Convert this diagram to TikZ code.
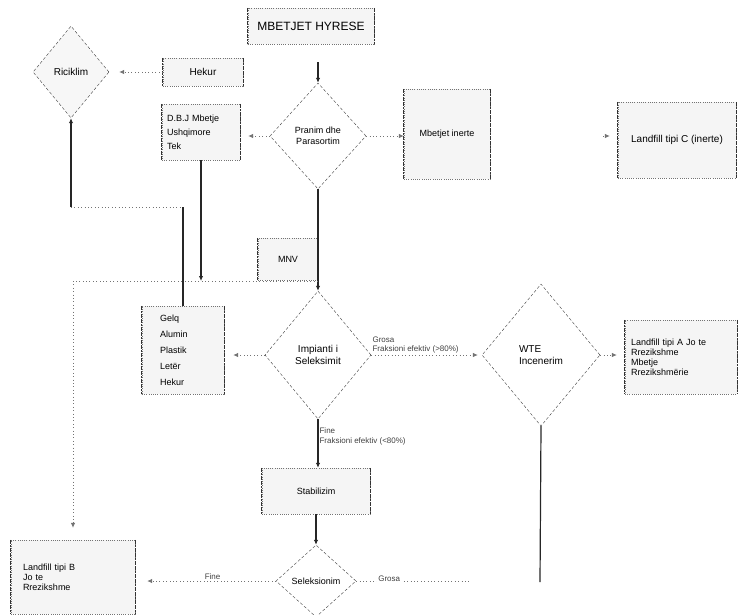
\documentclass[tikz,border=0pt]{standalone}
\usepackage{fontspec}
\setmainfont{Liberation Sans}
\usetikzlibrary{shapes.geometric,arrows.meta}
\tikzset{%
    Dbox/.style={draw=black!55, dash pattern=on 0.9pt off 1.3pt, fill=black!4, inner sep=2pt, font=\small},
    Dside/.style={draw=black!80, line width=1pt, dash pattern=on 2pt off 0.6pt},
    Ddiamond/.style={shape=diamond, draw=black!75, dash pattern=on 3pt off 2pt, inner sep=0pt, align=center, font=\normalsize},
    Dsolid/.style={line width=1.2pt, draw=black!85},
    Ddotted/.style={line width=0.8pt, draw=black!55, dash pattern=on 0.8pt off 2.6pt},
    Dtip/.style={-{Latex[length=5pt,width=4.5pt]}, shorten >=#1}, Dtip/.default={0pt},
    Dlabel/.style={font=\footnotesize, align=left, text=black!75, inner sep=1pt}
}

\begin{document}
\begin{tikzpicture}[x=1pt, y=-1pt]
    \useasboundingbox (0,0) rectangle (738,614);
        \path
            (318,62) coordinate (Nin)
            (603,136) coordinate (Nc)
            (71,207) coordinate (Nra)
            (183,207) coordinate (Nrb)
            (318,281) coordinate (Nmnv)
            (73,281) coordinate (Nleft)
            (540,582) coordinate (Nwte)
            (470,581) coordinate (Ngrosa);

        \node[Dbox, minimum width=126pt, minimum height=36pt, font=\large] (inflow) at (311,26) {MBETJET HYRESE};
        \node[Ddiamond, minimum width=96pt, minimum height=106pt, font=\small] (pranim) at (318,136) {Pranim dhe\\Parasortim};
        \node[Ddiamond, fill=black!3, minimum width=76pt, minimum height=92pt] (riciklim) at (71,72) {Riciklim};
        \node[Dbox, minimum width=80pt, minimum height=28pt, font=\normalsize] (hekur) at (203,72) {Hekur};
        \node[Dbox, minimum width=78pt, minimum height=56pt, text width=68pt, align=left] (organic) at (201,132) {D.B.J Mbetje\\[3pt]Ushqimore\\[3pt]Tek};
        \node[Dbox, minimum width=86pt, minimum height=90pt] (inert) at (447,134) {Mbetjet inerte};
        \node[Dbox, minimum width=118pt, minimum height=76pt, font=\normalsize] (landfillC) at (677,140) {Landfill tipi C (inerte)};
        \node[Dbox, minimum width=60pt, minimum height=42pt] (mnv) at (288,259) {MNV};
        \node[Dbox, minimum width=82pt, minimum height=88pt, text width=46pt, align=left] (metal) at (183,350) {Gelq\\[5pt]Alumin\\[5pt]Plastik\\[5pt]Letër\\[5pt]Hekur};
        \node[Ddiamond, minimum width=106pt, minimum height=128pt] (plant) at (318,355) {Impianti i\\Seleksimit};
        \node[Ddiamond, minimum width=118pt, minimum height=142pt, align=left] (wte) at (541,355) {WTE\\Incenerim};
        \node[Dbox, minimum width=112pt, minimum height=74pt, text width=100pt, align=left] (landfillA) at (681,357) {Landfill tipi A Jo te\\[-1pt]Rrezikshme\\[-1pt]Mbetje\\[-1pt]Rrezikshmërie};
        \node[Dbox, minimum width=108pt, minimum height=46pt] (stab) at (316,491) {Stabilizim};
        \node[Ddiamond, minimum width=80pt, minimum height=72pt, font=\small] (selek) at (316,581) {Seleksionim};
        \node[Dbox, minimum width=124pt, minimum height=74pt, text width=100pt, align=left] (landfillB) at (73,577) {Landfill tipi B\\[-1pt]Jo te\\[-1pt]Rrezikshme};

        \foreach \b in {inflow,hekur,organic,inert,landfillC,mnv,metal,landfillA,stab,landfillB}
            \draw[Dside] (\b.north west) -- (\b.south west) (\b.north east) -- (\b.south east);

        \draw[Dsolid, Dtip] (Nin) -- (pranim.north);
        \draw[Ddotted, Dtip=8pt] (pranim.west) -- (organic.east |- pranim.west);
        \draw[Ddotted, Dtip] (pranim.east) -- (inert.west |- pranim.east);
        \draw[Ddotted, Dtip=8pt] (Nc) -- (landfillC.west |- Nc);
        \draw[Ddotted, Dtip=10pt] (hekur.west) -- (riciklim.east);
        \draw[Dsolid, Dtip] (Nra) -- (riciklim.south);
        \draw[Ddotted] (Nra) -- (Nrb);
        \draw[Dsolid] (Nrb) -- (metal.north);
        \draw[Dsolid, Dtip] (organic.south) -- (organic.south |- Nmnv);
        \draw[Dsolid, Dtip] (pranim.south) -- (plant.north);
        \draw[Ddotted] (Nmnv) -- (Nleft);
        \draw[Ddotted, Dtip=12pt] (Nleft) -- (landfillB.north);
        \draw[Ddotted, Dtip=9pt] (plant.west) -- (metal.east |- plant.west);
        \draw[Ddotted, Dtip=4pt] (plant.east) -- node[Dlabel, above right, pos=0] {Grosa\\Fraksioni efektiv (>80\%)} (wte.west);
        \draw[Ddotted, Dtip=8pt] (wte.east) -- (landfillA.west |- wte.east);
        \draw[Dsolid] (wte.south) -- (Nwte);
        \draw[Dsolid, Dtip] (plant.south) -- node[Dlabel, right, pos=0.35] {Fine\\Fraksioni efektiv (<80\%)} (stab.north -| plant.south);
        \draw[Dsolid, Dtip] (stab.south) -- (selek.north);
        \draw[Ddotted, Dtip=12pt] (selek.west) -- node[Dlabel, above, pos=0.45] {Fine} (landfillB.east |- selek.west);
        \draw[Ddotted] (selek.east) -- node[Dlabel, fill=white, pos=0.29, yshift=2pt] {Grosa} (Ngrosa);
    \end{tikzpicture}
\end{document}
